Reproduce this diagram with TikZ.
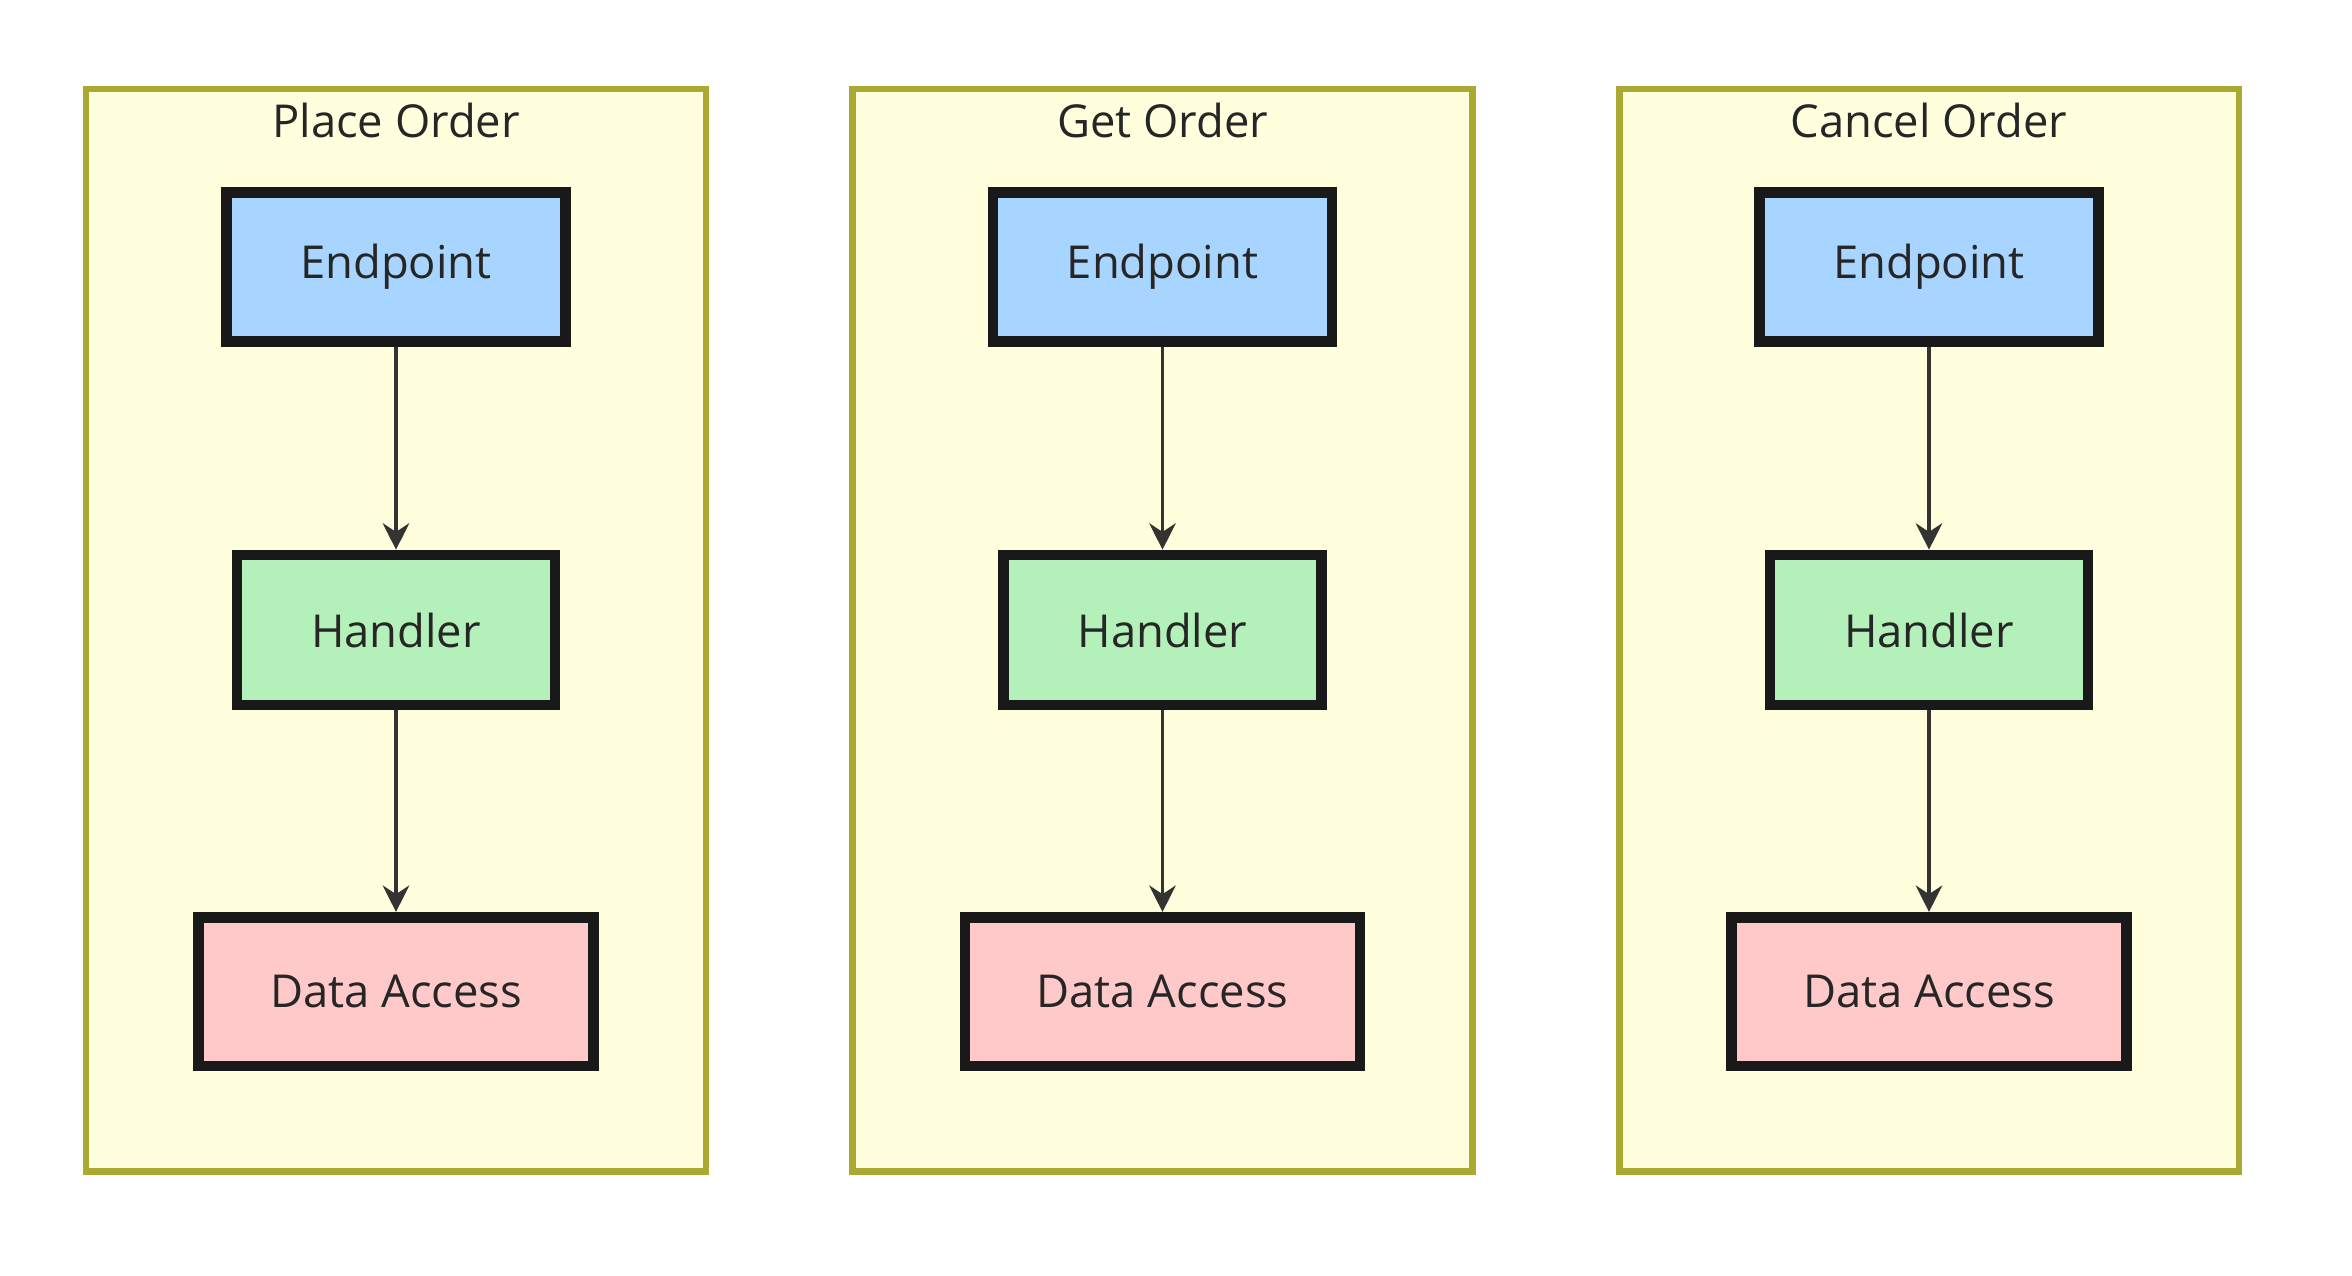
\documentclass[tikz,border=0pt]{standalone}
\usepackage{fontspec}
\setmainfont{Open Sans}
\usetikzlibrary{patterns,arrows.meta}
\definecolor{clfill}{HTML}{FFFFDE}
\definecolor{cledge}{HTML}{AAAA33}
\definecolor{epfill}{HTML}{A8D5FF}
\definecolor{hfill}{HTML}{B4F0B9}
\definecolor{dfill}{HTML}{FFC9C9}
\tikzset{
 cluster/.style={draw=cledge,line width=1.3pt,fill=clfill,minimum width=4.13cm,minimum height=7.21cm,inner sep=0},
 ctitle/.style={font=\fontsize{8.6}{10}\selectfont,text=black!85},
 box/.style={draw=black!90,line width=2pt,font=\fontsize{8.6}{10}\selectfont,text=black!85,inner sep=0},
 ep/.style={box,fill=epfill,minimum width=2.26cm,minimum height=0.99cm},
 hd/.style={box,fill=hfill,minimum width=2.12cm,minimum height=1.0cm},
 da/.style={box,fill=dfill,minimum width=2.63cm,minimum height=0.99cm},
 arr/.style={draw=black!80,line width=0.7pt,-{Stealth[length=5pt,width=5pt]}}
}
\begin{document}
\begin{tikzpicture}[x=0.01cm,y=-0.01cm]
\useasboundingbox (0,0) rectangle (1568,850);
\foreach \n/\x/\t in {a/264/Place Order,b/775/Get Order,c/1286/Cancel Order}{
 \node[cluster] (cl\n) at (\x,420) {};
 \node[ctitle] (t\n) at (\x,80) {\t};
 \node[ep] (e\n) at (\x,178) {Endpoint};
 \node[hd] (h\n) at (\x,420) {Handler};
 \node[da] (d\n) at (\x,661) {Data Access};
 \draw[arr] (e\n) -- (h\n);
 \draw[arr] (h\n) -- (d\n);
}
\end{tikzpicture}
\end{document}
